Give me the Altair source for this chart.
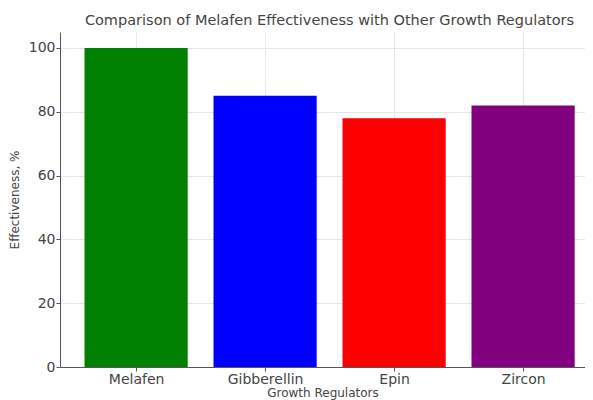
import altair as alt
import pandas as pd
import json

regulators = ["Melafen", "Gibberellin", "Epin", "Zircon"]
effectiveness = [100, 85, 78, 82]
colors = ["#008000", "#0000ff", "#ff0000", "#800080"]

df = pd.DataFrame({
    "Regulator": regulators,
    "Effectiveness": effectiveness,
    "idx": list(range(len(regulators))),
})

font = "DejaVu Sans"
label_expr = json.dumps(regulators) + "[datum.value]"

axis_common = dict(
    gridColor="#e6e6e6",
    domainColor="#555555",
    tickColor="#555555",
    tickSize=4,
    labelPadding=1,
    labelFontSize=14,
    titleFontSize=12,
    labelColor="#444444",
    titleColor="#444444",
    titleFontWeight="normal",
    labelFont=font,
    titleFont=font,
    grid=True,
)

chart = alt.Chart(df).transform_calculate(
    x0="datum.idx - 0.4", x1="datum.idx + 0.4"
).mark_bar(orient="vertical").encode(
    x=alt.X(
        "x0:Q",
        scale=alt.Scale(domain=[-0.59, 3.48], nice=False, zero=False, padding=0),
        axis=alt.Axis(
            title="Growth Regulators",
            values=[0, 1, 2, 3],
            labelExpr=label_expr,
            labelAngle=0,
            titlePadding=1,
            **axis_common,
        ),
    ),
    x2="x1:Q",
    y=alt.Y(
        "Effectiveness:Q",
        scale=alt.Scale(domain=[0, 105], nice=False, padding=0),
        axis=alt.Axis(
            title="Effectiveness, %",
            values=[0, 20, 40, 60, 80, 100],
            titlePadding=7,
            **axis_common,
        ),
    ),
    y2=alt.datum(0),
    color=alt.Color(
        "Regulator:N",
        scale=alt.Scale(domain=regulators, range=colors),
        legend=None,
    ),
).properties(
    width=525,
    height=335,
    autosize=alt.AutoSizeParams(type="none"),
    title=alt.TitleParams(
        "Comparison of Melafen Effectiveness with Other Growth Regulators",
        font=font,
        fontSize=14.5,
        fontWeight="normal",
        color="#444444",
        offset=4,
        dx=7,
    ),
    padding={"left": 52, "top": 24, "right": 0, "bottom": 33},
).configure_view(stroke=None)

chart.save("out.html", embed_options={"renderer": "svg", "actions": False})
